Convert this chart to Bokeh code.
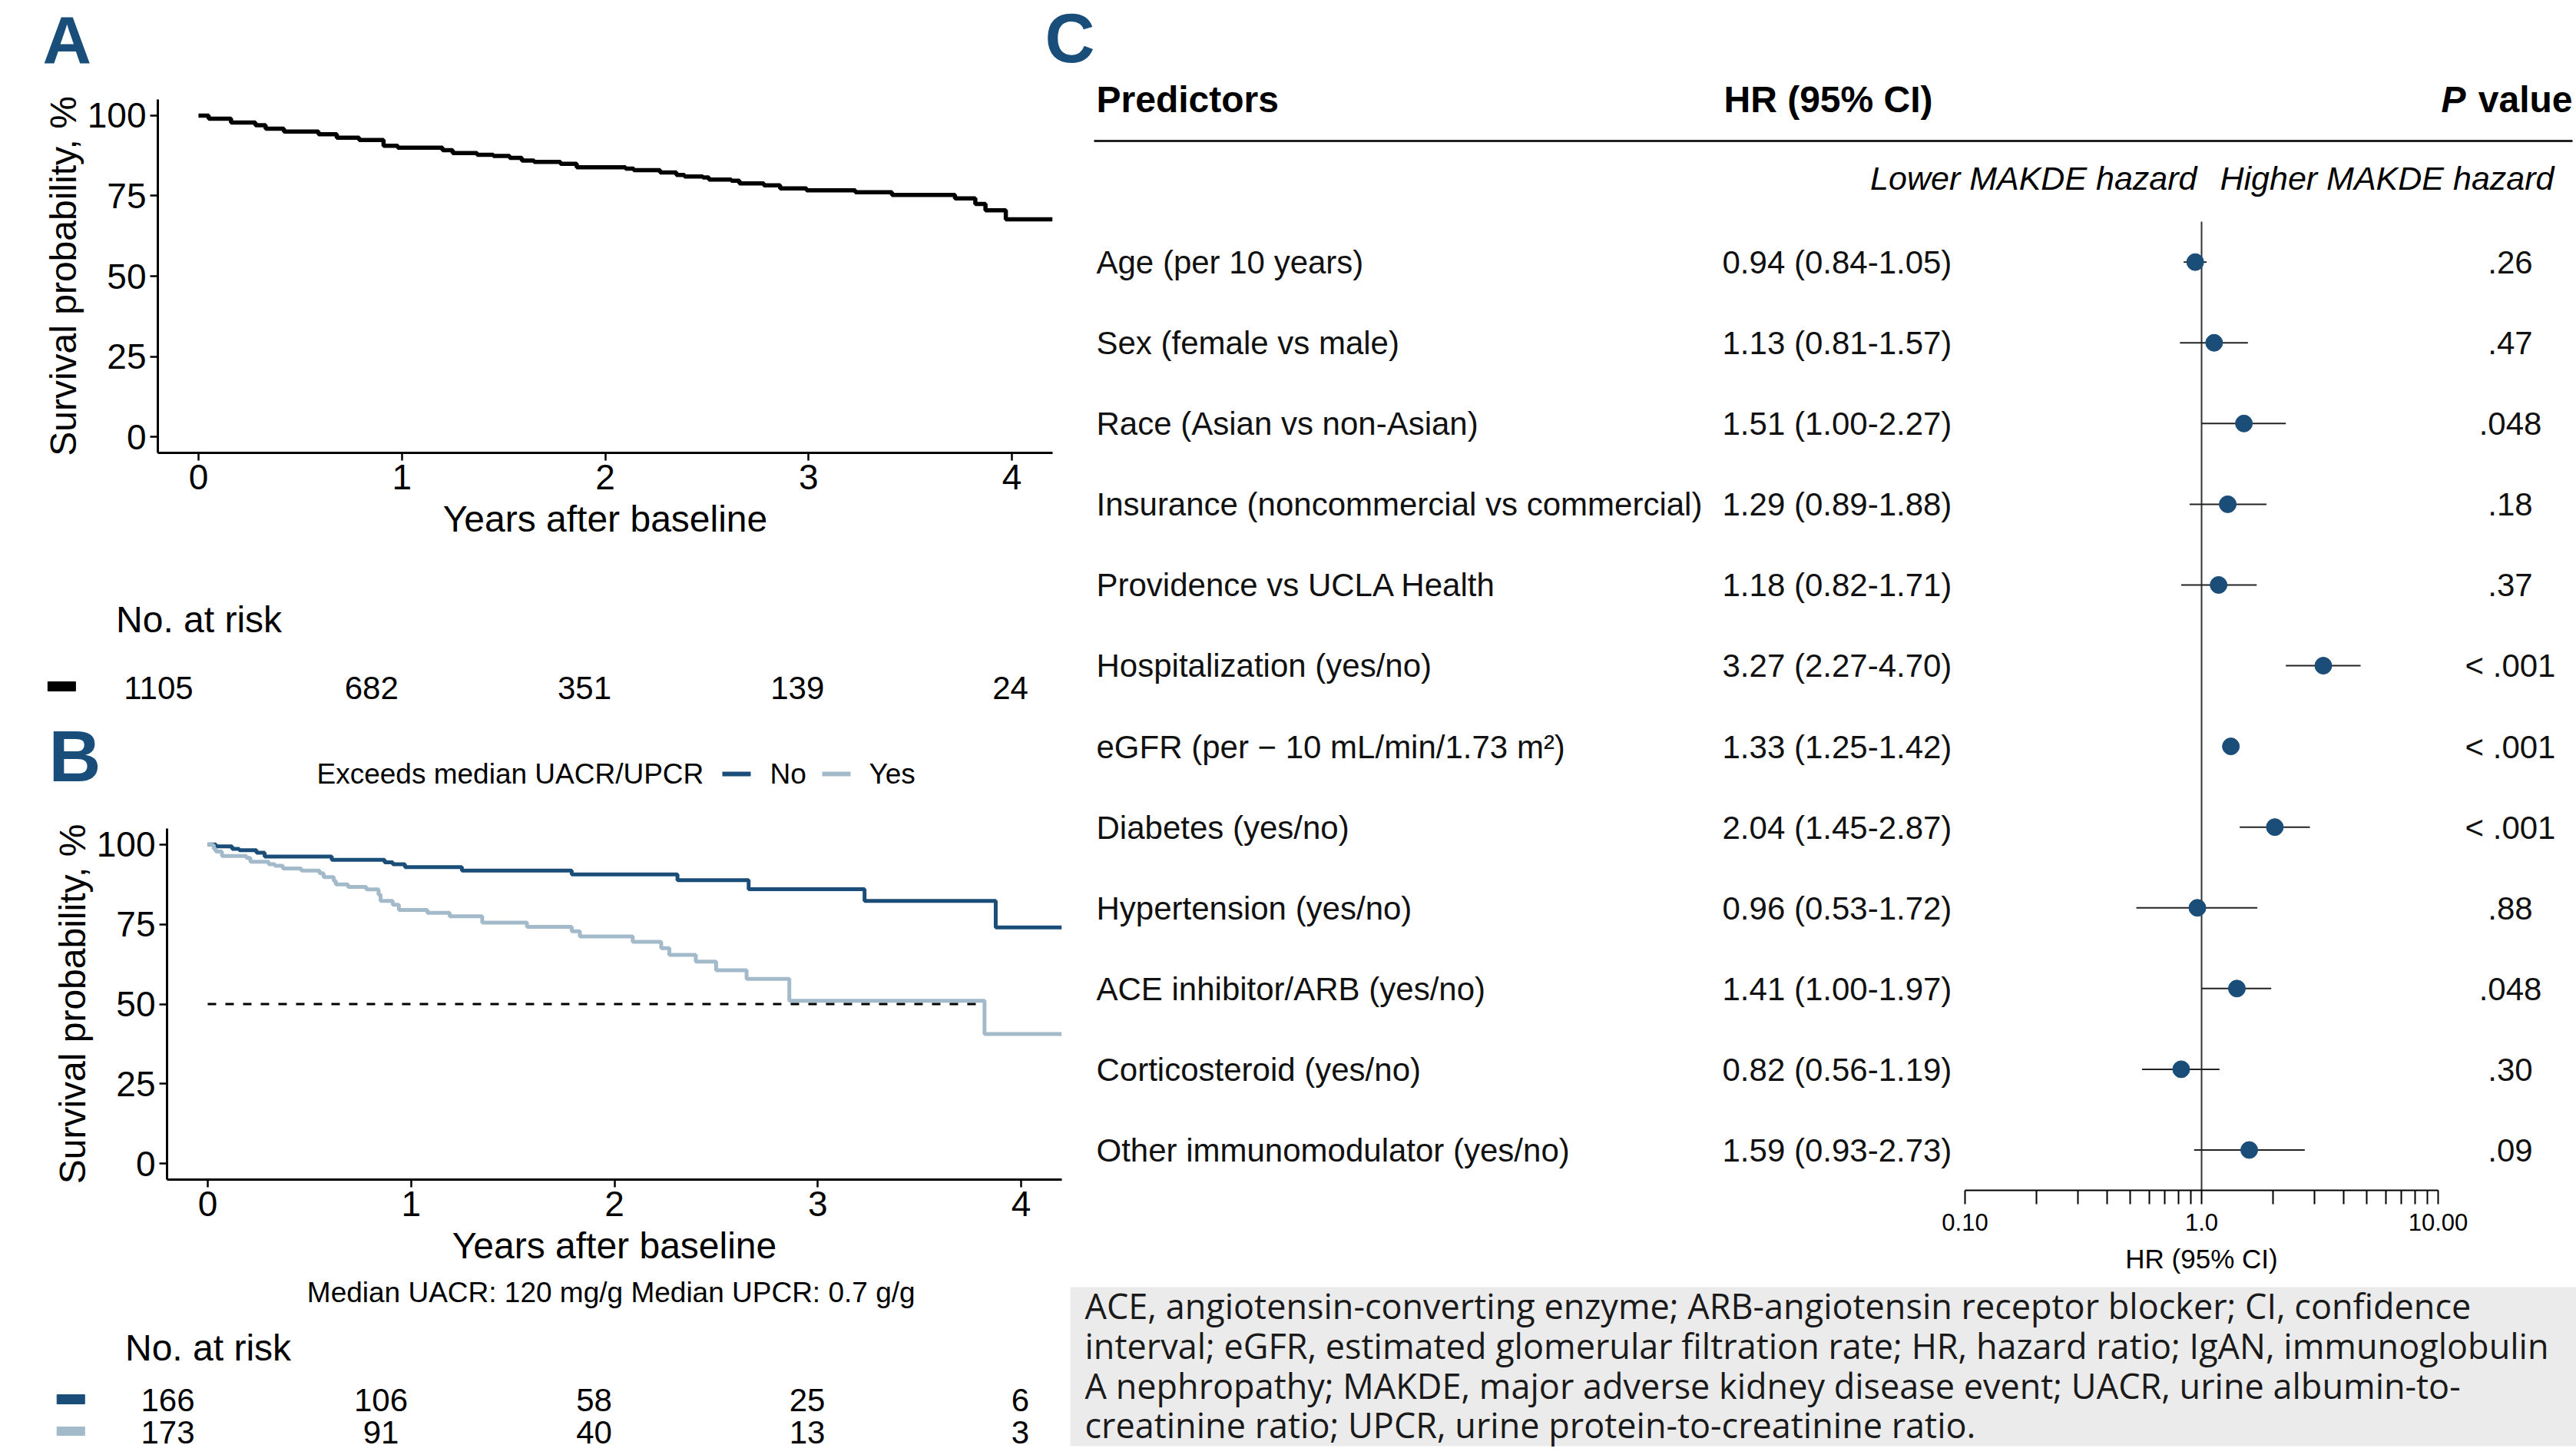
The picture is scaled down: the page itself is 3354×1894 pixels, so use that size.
from bokeh.plotting import figure
from bokeh.layouts import column, row
from bokeh.models import Range1d, LogScale, LogAxis, FixedTicker, CustomJSTickFormatter
from bokeh.core.properties import value
from bokeh.embed import file_html
from bokeh.resources import INLINE

# ---------------- data ----------------
# Panel A: overall Kaplan-Meier estimate (years, survival %)
A_TIME = [0.00, 0.05, 0.16, 0.28, 0.33, 0.42, 0.59, 0.68, 0.79, 0.91, 0.98, 1.20, 1.25, 1.37, 1.45,
          1.53, 1.59, 1.65, 1.78, 1.86, 2.10, 2.14, 2.27, 2.35, 2.39, 2.48, 2.51, 2.62, 2.66, 2.78,
          2.86, 2.99, 3.23, 3.41, 3.72, 3.82, 3.87, 3.97, 4.20]
A_SURV = [100, 99.0, 97.8, 97.0, 95.9, 95.0, 94.2, 93.1, 92.4, 90.6, 90.0, 89.2, 88.3, 87.8, 87.4,
          86.8, 86.0, 85.6, 85.0, 83.9, 83.5, 83.0, 82.3, 81.5, 81.0, 80.7, 80.1, 79.7, 78.9, 78.3,
          77.3, 76.7, 76.1, 75.3, 74.2, 72.5, 70.5, 67.7, 67.7]

# Panel B: by "Exceeds median UACR/UPCR"
B_NO_TIME = [0, 0.04, 0.12, 0.155, 0.24, 0.28, 0.61, 0.87, 0.91, 0.97, 1.25, 1.79, 2.31, 2.66, 3.23, 3.875, 4.2]
B_NO_SURV = [100, 99.4, 98.6, 98.2, 97.4, 96.2, 95.2, 94.4, 93.8, 92.9, 91.8, 90.6, 88.8, 86.0, 82.3, 74.0, 74.0]
B_YES_TIME = [0, 0.02, 0.03, 0.04, 0.07, 0.19, 0.21, 0.30, 0.33, 0.37, 0.46, 0.55, 0.57, 0.62, 0.63,
              0.69, 0.78, 0.84, 0.85, 0.91, 0.94, 1.08, 1.19, 1.35, 1.57, 1.79, 1.83, 2.09, 2.23, 2.27,
              2.40, 2.50, 2.65, 2.86, 3.82, 4.2]
B_YES_SURV = [100, 99.8, 98.6, 97.8, 96.4, 95.8, 94.6, 93.8, 93.3, 92.5, 91.8, 91.0, 89.8, 88.6, 87.5,
              86.7, 85.9, 84.3, 82.3, 81.1, 79.5, 78.6, 77.5, 75.5, 74.2, 72.8, 71.2, 69.5, 67.5, 65.4,
              63.3, 60.6, 57.9, 51.0, 40.6, 40.6]

KM_X_TICKS = [0, 1, 2, 3, 4]
KM_Y_TICKS = [0, 25, 50, 75, 100]

RISK_TIMES = [0, 1, 2, 3, 4]
RISK_ALL = [1105, 682, 351, 139, 24]
RISK_NO = [166, 106, 58, 25, 6]
RISK_YES = [173, 91, 40, 13, 3]

# Panel C: forest plot
PREDICTORS = ["Age (per 10 years)", "Sex (female vs male)", "Race (Asian vs non-Asian)",
              "Insurance (noncommercial vs commercial)", "Providence vs UCLA Health",
              "Hospitalization (yes/no)", "eGFR (per \u2212 10 mL/min/1.73 m\u00b2)", "Diabetes (yes/no)",
              "Hypertension (yes/no)", "ACE inhibitor/ARB (yes/no)", "Corticosteroid (yes/no)",
              "Other immunomodulator (yes/no)"]
HR = [0.94, 1.13, 1.51, 1.29, 1.18, 3.27, 1.33, 2.04, 0.96, 1.41, 0.82, 1.59]
HR_LO = [0.84, 0.81, 1.00, 0.89, 0.82, 2.27, 1.25, 1.45, 0.53, 1.00, 0.56, 0.93]
HR_HI = [1.05, 1.57, 2.27, 1.88, 1.71, 4.70, 1.42, 2.87, 1.72, 1.97, 1.19, 2.73]
P_VALUES = [".26", ".47", ".048", ".18", ".37", "< .001", "< .001", "< .001", ".88", ".048", ".30", ".09"]
HR_TICKS = [0.1, 1.0, 10.0]
HR_TICK_LABELS = ["0.10", "1.0", "10.00"]
HR_MINOR = [0.2, 0.3, 0.4, 0.5, 0.6, 0.7, 0.8, 0.9, 2, 3, 4, 5, 6, 7, 8, 9]

FOOTNOTE = [
    "ACE, angiotensin-converting enzyme; ARB-angiotensin receptor blocker; CI, confidence",
    "interval; eGFR, estimated glomerular filtration rate; HR, hazard ratio; IgAN, immunoglobulin",
    "A nephropathy; MAKDE, major adverse kidney disease event; UACR, urine albumin-to-",
    "creatinine ratio; UPCR, urine protein-to-creatinine ratio.",
]

# ---------------- styles ----------------
FONT = "Liberation Sans"
DARK = "#1b4d79"
LIGHT = "#a3bacb"
LETTER = "#1a4e7a"
BASE_FIX = 0.37   # svg text baseline correction (fraction of font size)


def canvas(w, h, x_range=None):
    p = figure(width=w, height=h, x_range=x_range if x_range is not None else Range1d(0, w),
               y_range=Range1d(h, 0), x_axis_location=None, y_axis_location=None,
               toolbar_location=None, output_backend="svg", min_border=0,
               outline_line_color=None, frame_align=False)
    p.grid.visible = False
    return p


def txt(p, xs, ys, texts, size, align="left", style="normal", font=FONT, color="black",
        y_offset=0):
    p.text(x=list(xs), y=list(ys), text=list(texts), text_font=value(font),
           text_font_size=f"{size}px", text_font_style=style, text_align=align,
           text_baseline="alphabetic", text_color=color, y_offset=y_offset - BASE_FIX * size)


def km_figure(w, h, left, right, top, bottom):
    p = figure(width=w, height=h, x_range=Range1d(-0.2, 4.2), y_range=Range1d(-5, 105),
               toolbar_location=None, output_backend="svg", min_border_left=left,
               min_border_right=right, min_border_top=top, min_border_bottom=bottom,
               outline_line_color=None, frame_align=False)
    p.grid.visible = False
    p.xaxis.ticker = KM_X_TICKS
    p.yaxis.ticker = KM_Y_TICKS
    p.xaxis.axis_label = "Years after baseline"
    p.yaxis.axis_label = "Survival probability, %"
    for ax in p.axis:
        ax.axis_line_width = 3
        ax.axis_line_color = "black"
        ax.major_tick_line_width = 2.5
        ax.major_tick_line_color = "black"
        ax.major_tick_out = 10
        ax.major_tick_in = 0
        ax.minor_tick_out = 0
        ax.minor_tick_in = 0
        ax.major_label_text_font = FONT
        ax.major_label_text_font_size = "46px"
        ax.major_label_text_color = "black"
        ax.axis_label_text_font = FONT
        ax.axis_label_text_font_size = "48px"
        ax.axis_label_text_font_style = "normal"
        ax.axis_label_text_color = "black"
    p.xaxis.major_label_standoff = 5
    p.yaxis.major_label_standoff = 5
    p.xaxis.axis_label_standoff = 9
    p.yaxis.axis_label_standoff = 2
    return p


# ================= top strip (image y 0 -> 103) =================
topA = canvas(1355, 103)                       # image x 0 -> 1355
txt(topA, [55], [84], ["A"], 88, style="bold", color=LETTER)
topC = canvas(1999, 103)                       # image x 1355 -> 3354
txt(topC, [5], [83], ["C"], 90, style="bold", color=LETTER)

# ================= left column (image x 0 -> 1384) =================
pA = km_figure(1384, 617, 205, 14, 26, 131)    # image y 103 -> 720
pA.step(A_TIME, A_SURV, mode="after", line_width=5.5, line_color="black")

riskA = canvas(1384, 210, Range1d(-206 / 277.25, 1178 / 277.25))   # 720 -> 930
txt(riskA, [-0.2], [104], ["No. at risk"], 48)
txt(riskA, RISK_TIMES, [191] * len(RISK_TIMES), [str(v) for v in RISK_ALL], 42, align="center")
riskA.quad(left=-0.52, right=-0.39, top=167, bottom=179, color="black")

headB = canvas(1384, 130)                      # 930 -> 1060
txt(headB, [63], [89], ["B"], 94, style="bold", color=LETTER)
txt(headB, [412], [91], ["Exceeds median UACR/UPCR"], 37)
headB.segment(x0=940, y0=77, x1=977, y1=77, line_color=DARK, line_width=6)
txt(headB, [1002], [91], ["No"], 37)
headB.segment(x0=1070, y0=77, x1=1107, y1=77, line_color=LIGHT, line_width=6)
txt(headB, [1131], [91], ["Yes"], 37)

pB = km_figure(1384, 590, 217, 2, 18, 110)     # 1060 -> 1650
pB.step(B_NO_TIME, B_NO_SURV, mode="after", line_width=5, line_color=DARK)
pB.step(B_YES_TIME, B_YES_SURV, mode="after", line_width=5, line_color=LIGHT)
median_yes = next(t for t, s in zip(B_YES_TIME, B_YES_SURV) if s <= 50)
pB.segment(x0=0, y0=50, x1=median_yes, y1=50, line_color="black", line_width=3, line_dash="11 12")

riskB = canvas(1384, 240, Range1d(-218 / 277.5, 1166 / 277.5))     # 1650 -> 1890
txt(riskB, [2.08], [46], ["Median UACR: 120 mg/g Median UPCR: 0.7 g/g"], 37, align="center")
txt(riskB, [-0.2], [122], ["No. at risk"], 48)
txt(riskB, RISK_TIMES, [188] * 5, [str(v) for v in RISK_NO], 42, align="center")
txt(riskB, RISK_TIMES, [230] * 5, [str(v) for v in RISK_YES], 42, align="center")
riskB.quad(left=-0.52, right=-0.39, top=165, bottom=177, color=DARK)
riskB.quad(left=-0.52, right=-0.39, top=207, bottom=218, color=LIGHT)

# ================= right column (image x 1384 -> 3354) =================
ROWS = list(range(len(PREDICTORS)))
pC = figure(width=1970, height=1513, x_range=Range1d(0, 1970), y_range=Range1d(11.5, -2.2618),
            x_axis_location=None, y_axis_location=None, toolbar_location=None,
            output_backend="svg", min_border_left=0, min_border_right=0, min_border_top=0,
            min_border_bottom=67, outline_line_color=None, frame_align=False)   # 103 -> 1616
pC.grid.visible = False
pC.extra_x_ranges = {"log": Range1d(10 ** -4.8117, 10 ** 1.5844)}
pC.extra_x_scales = {"log": LogScale()}

fmt = CustomJSTickFormatter(args=dict(vals=HR_TICKS, labs=HR_TICK_LABELS), code="""
const i = vals.findIndex(v => Math.abs(Math.log10(v) - Math.log10(tick)) < 1e-6);
return i >= 0 ? labs[i] : "";
""")
hr_axis = LogAxis(x_range_name="log", bounds=(0.1, 10),
                  ticker=FixedTicker(ticks=HR_TICKS, minor_ticks=HR_MINOR), formatter=fmt)
hr_axis.axis_line_width = 2
hr_axis.major_tick_line_width = 2
hr_axis.minor_tick_line_width = 2
hr_axis.major_tick_out = 18
hr_axis.major_tick_in = 0
hr_axis.minor_tick_out = 18
hr_axis.minor_tick_in = 0
hr_axis.major_label_text_font = FONT
hr_axis.major_label_text_font_size = "31px"
hr_axis.major_label_text_color = "black"
hr_axis.major_label_standoff = 12
pC.add_layout(hr_axis, "below")

# header
txt(pC, [43], [-2], ["Predictors"], 48, style="bold", y_offset=16.5)
txt(pC, [860], [-2], ["HR (95% CI)"], 48, style="bold", y_offset=16.5)
txt(pC, [1826], [-2], ["P"], 48, style="bold italic", align="right", y_offset=16.5)
txt(pC, [1965], [-2], ["value"], 48, style="bold", align="right", y_offset=16.5)
pC.segment(x0=40, y0=-1.5, x1=1965, y1=-1.5, line_color="#222222", line_width=3)
txt(pC, [1476], [-1], ["Lower MAKDE hazard"], 43, style="italic", align="right", y_offset=11.75)
txt(pC, [1506], [-1], ["Higher MAKDE hazard"], 43, style="italic", y_offset=11.75)

# rows
txt(pC, [43] * len(ROWS), ROWS, PREDICTORS, 42, color="#111111", y_offset=16)
HR_TEXT = [f"{h:.2f} ({lo:.2f}-{hi:.2f})" for h, lo, hi in zip(HR, HR_LO, HR_HI)]
txt(pC, [858] * len(ROWS), ROWS, HR_TEXT, 42, color="#111111", y_offset=16)
txt(pC, [1884] * len(ROWS), ROWS, P_VALUES, 42, align="center", color="#111111", y_offset=16)

pC.segment(x0=1, y0=-0.5, x1=1, y1=11.5, x_range_name="log", line_color="#333333", line_width=2)
pC.segment(x0=HR_LO, y0=ROWS, x1=HR_HI, y1=ROWS, x_range_name="log", line_color="#222222",
           line_width=2)
pC.scatter(x=HR, y=ROWS, x_range_name="log", size=22, fill_color=DARK, line_color=DARK)

# axis title + footnote (image y 1616 -> 1890)
foot = canvas(1970, 274)
txt(foot, [1482], [35], ["HR (95% CI)"], 35, align="center")
foot.quad(left=9, right=1970, top=59, bottom=266, fill_color="#ebebeb", line_color=None)
txt(foot, [28] * 4, [100, 152, 204, 255], FOOTNOTE, 45, font="Open Sans", color="#1a1a1a")

left_col = column(pA, riskA, headB, pB, riskB, spacing=0)
right_col = column(pC, foot, spacing=0)
layout = column(row(topA, topC, spacing=0), row(left_col, right_col, spacing=0), spacing=0)

open("out.html", "w").write(file_html(layout, INLINE))
